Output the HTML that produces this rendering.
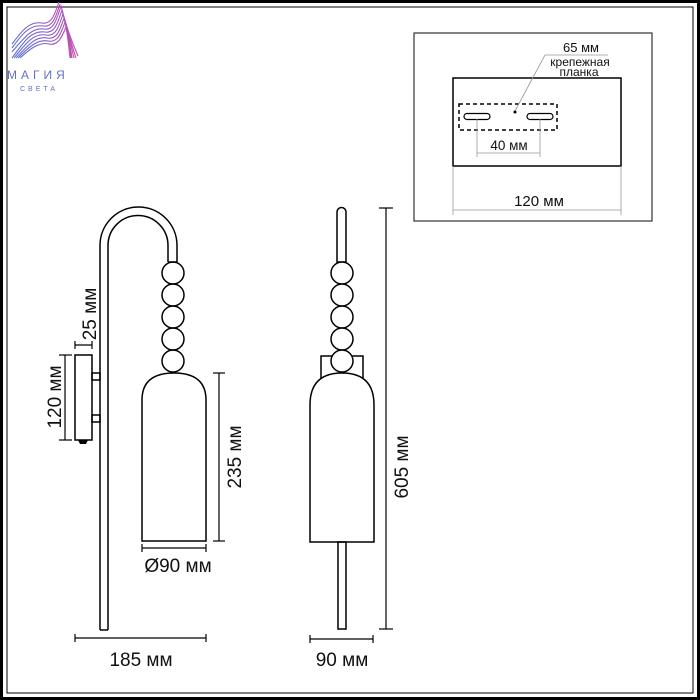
<!DOCTYPE html>
<html><head><meta charset="utf-8"><style>
html,body{margin:0;padding:0;background:#fff}
svg{display:block}
text{font-family:"Liberation Sans",sans-serif;fill:#111}
</style></head><body>
<svg width="700" height="700" viewBox="0 0 700 700" xmlns="http://www.w3.org/2000/svg">
<defs>
<linearGradient id="g" x1="0" x2="1" y1="0" y2="0">
<stop offset="0" stop-color="#5b6fd6"/><stop offset="0.6" stop-color="#8a5bc9"/><stop offset="1" stop-color="#c04fb0"/>
</linearGradient>
</defs>
<rect x="1.5" y="1.5" width="697" height="697" fill="none" stroke="#000" stroke-width="3"/>
<rect x="7" y="7" width="686" height="686" fill="none" stroke="#000" stroke-width="1"/>
<!-- logo -->
<g fill="none" stroke="url(#g)" stroke-width="1.1">
<path d="M12 58 C25 40 32 30 45 32 C55 34 58 22 62 10 C66 25 70 40 76 58"/>
<path d="M14 58 C27 42 34 33 46 35 C56 37 59 26 63 14 C67 28 70 42 74 58"/>
<path d="M16 58 C29 44 36 36 47 38 C57 40 60 30 64 18 C67 31 70 44 72 58"/>
<path d="M12 52 C24 38 32 27 44 29 C54 31 57 18 61 6 C65 22 70 38 78 56"/>
<path d="M18 58 C30 46 38 39 48 41 C58 43 61 33 65 22 C68 34 70 46 71 58"/>
<path d="M12 48 C22 34 30 24 43 26 C53 28 56 16 60 4"/>
<path d="M12 44 C22 31 29 21 42 23 C52 25 55 13 59 2"/>
<path d="M20 58 C31 48 39 42 49 44 C58 46 62 37 66 27 C68 38 69 48 70 58"/>
</g>
<text x="7" y="79" font-size="12" style="fill:#6670c9;letter-spacing:4px">МАГИЯ</text>
<text x="20" y="91" font-size="7" style="fill:#6670c9;letter-spacing:3px">СВЕТА</text>
<!-- inset -->
<rect x="414" y="33" width="238" height="188" fill="none" stroke="#333" stroke-width="1.2"/>
<rect x="453" y="78" width="168" height="88" fill="none" stroke="#000" stroke-width="1.5"/>
<rect x="459" y="104" width="98" height="26" fill="none" stroke="#000" stroke-width="1.5" stroke-dasharray="4,3"/>
<rect x="464" y="113.5" width="26" height="6" rx="3" fill="none" stroke="#000" stroke-width="1.2"/>
<rect x="527" y="113.5" width="26" height="6" rx="3" fill="none" stroke="#000" stroke-width="1.2"/>
<g stroke="#999" stroke-width="0.8">
<line x1="477" y1="119" x2="477" y2="157"/><line x1="540" y1="119" x2="540" y2="157"/>
<line x1="477" y1="153" x2="540" y2="153"/>
<line x1="453" y1="166" x2="453" y2="215"/><line x1="621" y1="166" x2="621" y2="215"/>
<line x1="453" y1="210" x2="621" y2="210"/>
<line x1="545" y1="55" x2="608" y2="55"/><line x1="545" y1="55" x2="515" y2="111"/>
</g>
<circle cx="515" cy="112" r="1.5" fill="#000"/>
<text x="509" y="150" font-size="13.5" text-anchor="middle">40 мм</text>
<text x="539" y="206" font-size="15" text-anchor="middle">120 мм</text>
<text x="581" y="52" font-size="13" text-anchor="middle">65 мм</text>
<text x="580" y="66" font-size="12" text-anchor="middle">крепежная</text>
<text x="579" y="76" font-size="12" text-anchor="middle">планка</text>
<!-- left lamp -->
<g fill="none" stroke="#000" stroke-width="1.5">
<path d="M100 630 L100 245.5 A38.5 38.5 0 0 1 177 245.5 L177 262"/>
<path d="M108 630 L108 245.5 A30 30 0 0 1 168 245.5 L168 262"/>
<line x1="100" y1="630" x2="108" y2="630"/>
<line x1="168" y1="262" x2="177" y2="262"/>
<circle cx="173" cy="273" r="11"/><circle cx="173" cy="295" r="11"/><circle cx="173" cy="317" r="11"/><circle cx="173" cy="339" r="11"/><circle cx="173" cy="361" r="11"/>
<path d="M142 541 L142 400 Q142 373 174 373 Q206 373 206 400 L206 541 Z" fill="#fff"/>
<rect x="75" y="355" width="17" height="85"/>
<rect x="92" y="373" width="8" height="7"/><rect x="92" y="415" width="8" height="7"/>
</g>
<path d="M78 440 L88 440 L86 444 L80 444 Z" fill="#000"/>
<g stroke="#000" stroke-width="1.2">
<line x1="65" y1="355" x2="65" y2="440"/><line x1="59" y1="355" x2="72" y2="355"/><line x1="59" y1="440" x2="72" y2="440"/>
<line x1="75" y1="345" x2="92" y2="345"/><line x1="75" y1="341" x2="75" y2="349"/><line x1="92" y1="341" x2="92" y2="349"/>
<line x1="219" y1="373" x2="219" y2="541"/><line x1="213" y1="373" x2="225" y2="373"/><line x1="213" y1="541" x2="225" y2="541"/>
<line x1="142" y1="548" x2="206" y2="548"/><line x1="142" y1="544" x2="142" y2="552"/><line x1="206" y1="544" x2="206" y2="552"/>
<line x1="75" y1="638" x2="206" y2="638"/><line x1="75" y1="634" x2="75" y2="642"/><line x1="206" y1="634" x2="206" y2="642"/>
</g>
<text font-size="19" text-anchor="middle" transform="translate(61 397) rotate(-90)">120 мм</text>
<text font-size="19" text-anchor="middle" transform="translate(96 314) rotate(-90)">25 мм</text>
<text font-size="19" text-anchor="middle" transform="translate(241 457) rotate(-90)">235 мм</text>
<text x="178" y="572" font-size="19" text-anchor="middle">Ø90 мм</text>
<text x="141" y="666" font-size="19" text-anchor="middle">185 мм</text>
<!-- right lamp -->
<g fill="none" stroke="#000" stroke-width="1.5">
<path d="M337 262 L337 212 A4.5 4.5 0 0 1 346 212 L346 262 Z"/>
<rect x="321" y="356" width="42" height="24"/>
<circle cx="342" cy="273" r="11" fill="#fff"/><circle cx="342" cy="295" r="11" fill="#fff"/><circle cx="342" cy="317" r="11" fill="#fff"/><circle cx="342" cy="339" r="11" fill="#fff"/><circle cx="342" cy="361" r="11" fill="#fff"/>
<path d="M310 542 L310 405 Q310 373 342 373 Q374 373 374 405 L374 542 Z" fill="#fff"/>
<rect x="338" y="542" width="8" height="87"/>
</g>
<g stroke="#000" stroke-width="1.2">
<line x1="386" y1="208" x2="386" y2="629"/><line x1="379" y1="208" x2="393" y2="208"/><line x1="379" y1="629" x2="393" y2="629"/>
<line x1="310" y1="639" x2="373" y2="639"/><line x1="310" y1="635" x2="310" y2="643"/><line x1="373" y1="635" x2="373" y2="643"/>
</g>
<text font-size="19" text-anchor="middle" transform="translate(408 467) rotate(-90)">605 мм</text>
<text x="342" y="666" font-size="19" text-anchor="middle">90 мм</text>
</svg>
</body></html>
